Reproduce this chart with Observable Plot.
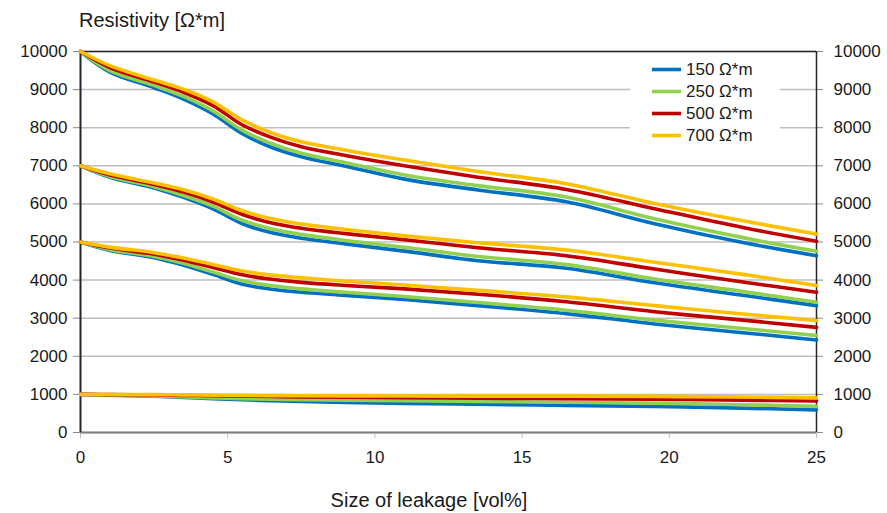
<!DOCTYPE html>
<html><head><meta charset="utf-8">
<script src="https://cdn.jsdelivr.net/npm/d3@7"></script>
<script src="https://cdn.jsdelivr.net/npm/@observablehq/plot@0.6"></script>
<style>
body{margin:0;background:#fff;font-family:"Liberation Sans",Arial,sans-serif;color:#1a1a1a;}
#wrap{position:relative;width:887px;height:513px;overflow:hidden;}
#title{position:absolute;left:79px;top:10px;font-size:20px;line-height:20px;white-space:nowrap;}
#chart{position:absolute;left:0;top:35px;}
#xlabel{position:absolute;left:0;width:858px;top:490px;font-size:20px;line-height:20px;text-align:center;}
#legend{position:absolute;left:630px;top:57px;width:150px;height:90px;background:#fff;}
.item{position:absolute;left:21px;height:22px;font-size:17px;line-height:22px;white-space:nowrap;}
.item svg{position:absolute;left:0;top:0;}
.item span{position:absolute;left:35px;top:0;}
</style></head><body>
<div id="wrap">
  <div id="title">Resistivity [Ω*m]</div>
  <div id="chart"></div>
  <div id="xlabel">Size of leakage [vol%]</div>
  <div id="legend"></div>
</div>
<script>
// Series labels and colours
const series = ["150 Ω*m", "250 Ω*m", "500 Ω*m", "700 Ω*m"];
const colors = ["#0070c0", "#92d050", "#c00000", "#ffc000"];
// x sample points (vol%)
const xs = [0, 1, 2.5, 3.5, 4.5, 5.5, 6.5, 7.5, 9, 11, 13.5, 16.5, 19.5, 22.5, 25];
const xTicks = [0, 5, 10, 15, 20, 25];
const yTicks = [0, 1000, 2000, 3000, 4000, 5000, 6000, 7000, 8000, 9000, 10000];

// Group starting at 10000
const g10000_150 = [10000, 9460, 9050, 8750, 8360, 7840, 7480, 7240, 6990, 6650, 6365, 6055, 5480, 4985, 4640];
const g10000_250 = [10000, 9500, 9110, 8820, 8440, 7930, 7580, 7330, 7080, 6760, 6480, 6180, 5610, 5115, 4755];
const g10000_500 = [10000, 9580, 9200, 8930, 8580, 8070, 7740, 7500, 7270, 7000, 6700, 6380, 5875, 5380, 5020];
const g10000_700 = [10000, 9630, 9250, 9010, 8680, 8200, 7860, 7630, 7410, 7150, 6850, 6530, 6010, 5555, 5210];
// Group starting at 7000
const g7000_150 = [7000, 6700, 6420, 6170, 5870, 5480, 5240, 5100, 4950, 4760, 4510, 4310, 3930, 3600, 3330];
const g7000_250 = [7000, 6720, 6450, 6220, 5940, 5570, 5340, 5200, 5040, 4860, 4620, 4410, 4030, 3700, 3420];
const g7000_500 = [7000, 6760, 6510, 6310, 6050, 5720, 5500, 5360, 5220, 5060, 4850, 4640, 4290, 3950, 3680];
const g7000_700 = [7000, 6790, 6550, 6370, 6130, 5820, 5610, 5470, 5330, 5160, 4980, 4790, 4470, 4150, 3860];
// Group starting at 5000
const g5000_150 = [5000, 4780, 4590, 4390, 4150, 3890, 3760, 3680, 3600, 3490, 3330, 3120, 2850, 2620, 2430];
const g5000_250 = [5000, 4800, 4620, 4440, 4210, 3980, 3850, 3770, 3680, 3570, 3410, 3210, 2950, 2730, 2545];
const g5000_500 = [5000, 4840, 4680, 4520, 4330, 4140, 4020, 3940, 3860, 3770, 3630, 3430, 3170, 2950, 2760];
const g5000_700 = [5000, 4865, 4720, 4580, 4410, 4240, 4130, 4060, 3970, 3870, 3730, 3560, 3330, 3110, 2940];
// Group starting at 1000
const g1000_150 = [1000, 980, 950, 920, 885, 858, 835, 815, 790, 765, 742, 712, 685, 640, 595];
const g1000_250 = [1000, 985, 960, 935, 908, 885, 872, 862, 848, 832, 815, 795, 768, 730, 685];
const g1000_500 = [1000, 995, 985, 975, 966, 955, 945, 936, 925, 913, 900, 888, 872, 850, 825];
const g1000_700 = [1000, 998, 993, 988, 982, 975, 969, 964, 960, 957, 955, 955, 947, 930, 910];

const groups = [
  {start: 10000, vals: [g10000_150, g10000_250, g10000_500, g10000_700]},
  {start: 7000, vals: [g7000_150, g7000_250, g7000_500, g7000_700]},
  {start: 5000, vals: [g5000_150, g5000_250, g5000_500, g5000_700]},
  {start: 1000, vals: [g1000_150, g1000_250, g1000_500, g1000_700]}
];

// Build table: draw order blue, green, red, yellow (yellow on top)
const rows = [];
series.forEach((s, si) => {
  groups.forEach(g => {
    g.vals[si].forEach((v, i) => rows.push({x: xs[i], y: v, series: s, key: s + "|" + g.start}));
  });
});

const chart = Plot.plot({
  width: 887,
  height: 440,
  marginLeft: 80,
  marginRight: 71,
  marginTop: 16,
  marginBottom: 43,
  style: {fontFamily: "Liberation Sans, Arial, sans-serif", fontSize: "17px", color: "#1a1a1a", background: "#fff", overflow: "visible"},
  x: {domain: [0, 25]},
  y: {domain: [0, 10000]},
  color: {domain: series, range: colors},
  marks: [
    Plot.gridY(yTicks, {stroke: "#bfbfbf", strokeOpacity: 1, strokeWidth: 1.5}),
    Plot.axisY(yTicks, {anchor: "left", tickSize: 7, tickPadding: 6, stroke: "#8c8c8c", fill: "#1a1a1a", fontSize: 17, label: null, tickFormat: d => String(d)}),
    Plot.axisY(yTicks, {anchor: "right", tickSize: 6, tickPadding: 11, stroke: "#8c8c8c", fill: "#1a1a1a", fontSize: 17, label: null, tickFormat: d => String(d)}),
    Plot.axisX(xTicks, {anchor: "bottom", tickSize: 6, tickPadding: 12, stroke: "#bfbfbf", fill: "#1a1a1a", fontSize: 17, label: null, tickFormat: d => String(d)}),
    Plot.ruleY([0], {stroke: "#7f7f7f", strokeWidth: 2}),
    Plot.ruleY([10000], {stroke: "#262626", strokeWidth: 1.5}),
    Plot.ruleX([0], {stroke: "#262626", strokeWidth: 2}),
    Plot.ruleX([25], {stroke: "#262626", strokeWidth: 1.5}),
    Plot.line(rows, {x: "x", y: "y", z: "key", stroke: "series", strokeWidth: 3.6, curve: "catmull-rom"})
  ]
});
document.getElementById("chart").appendChild(chart);

// Legend
const legend = d3.select("#legend");
series.forEach((s, i) => {
  const item = legend.append("div").attr("class", "item").style("top", (2 + i * 22) + "px");
  const sv = item.append("svg").attr("width", 32).attr("height", 22);
  sv.append("line").attr("x1", 1).attr("x2", 30).attr("y1", 10.5).attr("y2", 10.5)
    .attr("stroke", colors[i]).attr("stroke-width", 3.6);
  item.append("span").text(s);
});
</script>
</body></html>
